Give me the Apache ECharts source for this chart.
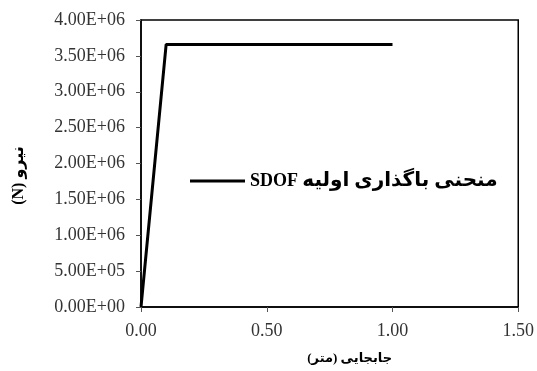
<!DOCTYPE html>
<html>
<head>
<meta charset="utf-8">
<script src="https://cdn.jsdelivr.net/npm/echarts@6/dist/echarts.min.js"></script>
<style>
  html, body { margin: 0; padding: 0; background: #fff; }
  #main { width: 537px; height: 371px; }
</style>
</head>
<body>
<div id="main"></div>
<script>
  // displacement (m) vs force (N)
  const dispValues = [0, 0.1, 1.0]
  const forceValues = [0, 3.66e6, 3.66e6]
  const seriesName = 'SDOF منحنی باگذاری اولیه'
  const xTitle = '\u200Fجابجایی (متر)\u200F'
  const yTitle = '(N) نیرو'

  const fontFam = '"Liberation Serif", "DejaVu Serif", "DejaVu Sans", serif'

  const chart = echarts.init(document.getElementById('main'))
  chart.setOption({
    animation: false,
    textStyle: { fontFamily: fontFam },
    grid: {
      left: 141, right: 17, top: 20, bottom: 64,
      show: true, borderColor: '#000', borderWidth: 1.5, backgroundColor: 'transparent'
    },
    legend: {
      left: 190, top: 171, padding: 0,
      icon: 'rect',
      itemWidth: 55, itemHeight: 3, itemGap: 4,
      formatter: () => '{a|SDOF} {b|منحنی باگذاری اولیه}',
      textStyle: {
        fontFamily: fontFam, fontSize: 17, fontWeight: 'bold', color: '#000',
        rich: {
          a: { fontFamily: fontFam, fontSize: 18, fontWeight: 'bold', color: '#000' },
          b: { fontFamily: fontFam, fontSize: 20, fontWeight: 'bold', color: '#000' }
        }
      },
      data: [seriesName]
    },
    xAxis: {
      type: 'value', min: 0, max: 1.5, interval: 0.5,
      name: xTitle, nameLocation: 'middle', nameGap: 45,
      nameTextStyle: { fontFamily: fontFam, fontSize: 13, fontWeight: 'bold', color: '#000', padding: [0, 0, 0, 40] },
      axisLine: { show: true, lineStyle: { color: '#000', width: 1.5 } },
      axisTick: { show: true, length: 5, lineStyle: { color: '#555' } },
      splitLine: { show: false },
      axisLabel: { fontSize: 18, color: '#333', margin: 15, formatter: v => v.toFixed(2) }
    },
    yAxis: {
      type: 'value', min: 0, max: 4e6, interval: 5e5,
      name: yTitle, nameLocation: 'middle', nameGap: 114, nameRotate: 90,
      nameTextStyle: { fontFamily: fontFam, fontSize: 16, fontWeight: 'bold', color: '#000', padding: [0, 24, 0, 0] },
      axisLine: { show: true, lineStyle: { color: '#000', width: 1.5 } },
      axisTick: { show: true, length: 5, lineStyle: { color: '#555' } },
      splitLine: { show: false },
      axisLabel: {
        fontSize: 18, color: '#333', margin: 16,
        formatter: v => v.toExponential(2).replace(/e([+-])(\d)$/, 'e$10$2').toUpperCase()
      }
    },
    series: [{
      name: seriesName,
      type: 'line',
      symbol: 'none',
      lineStyle: { color: '#000', width: 3 },
      itemStyle: { color: '#000' },
      data: dispValues.map((x, i) => [x, forceValues[i]])
    }]
  })
</script>
</body>
</html>
